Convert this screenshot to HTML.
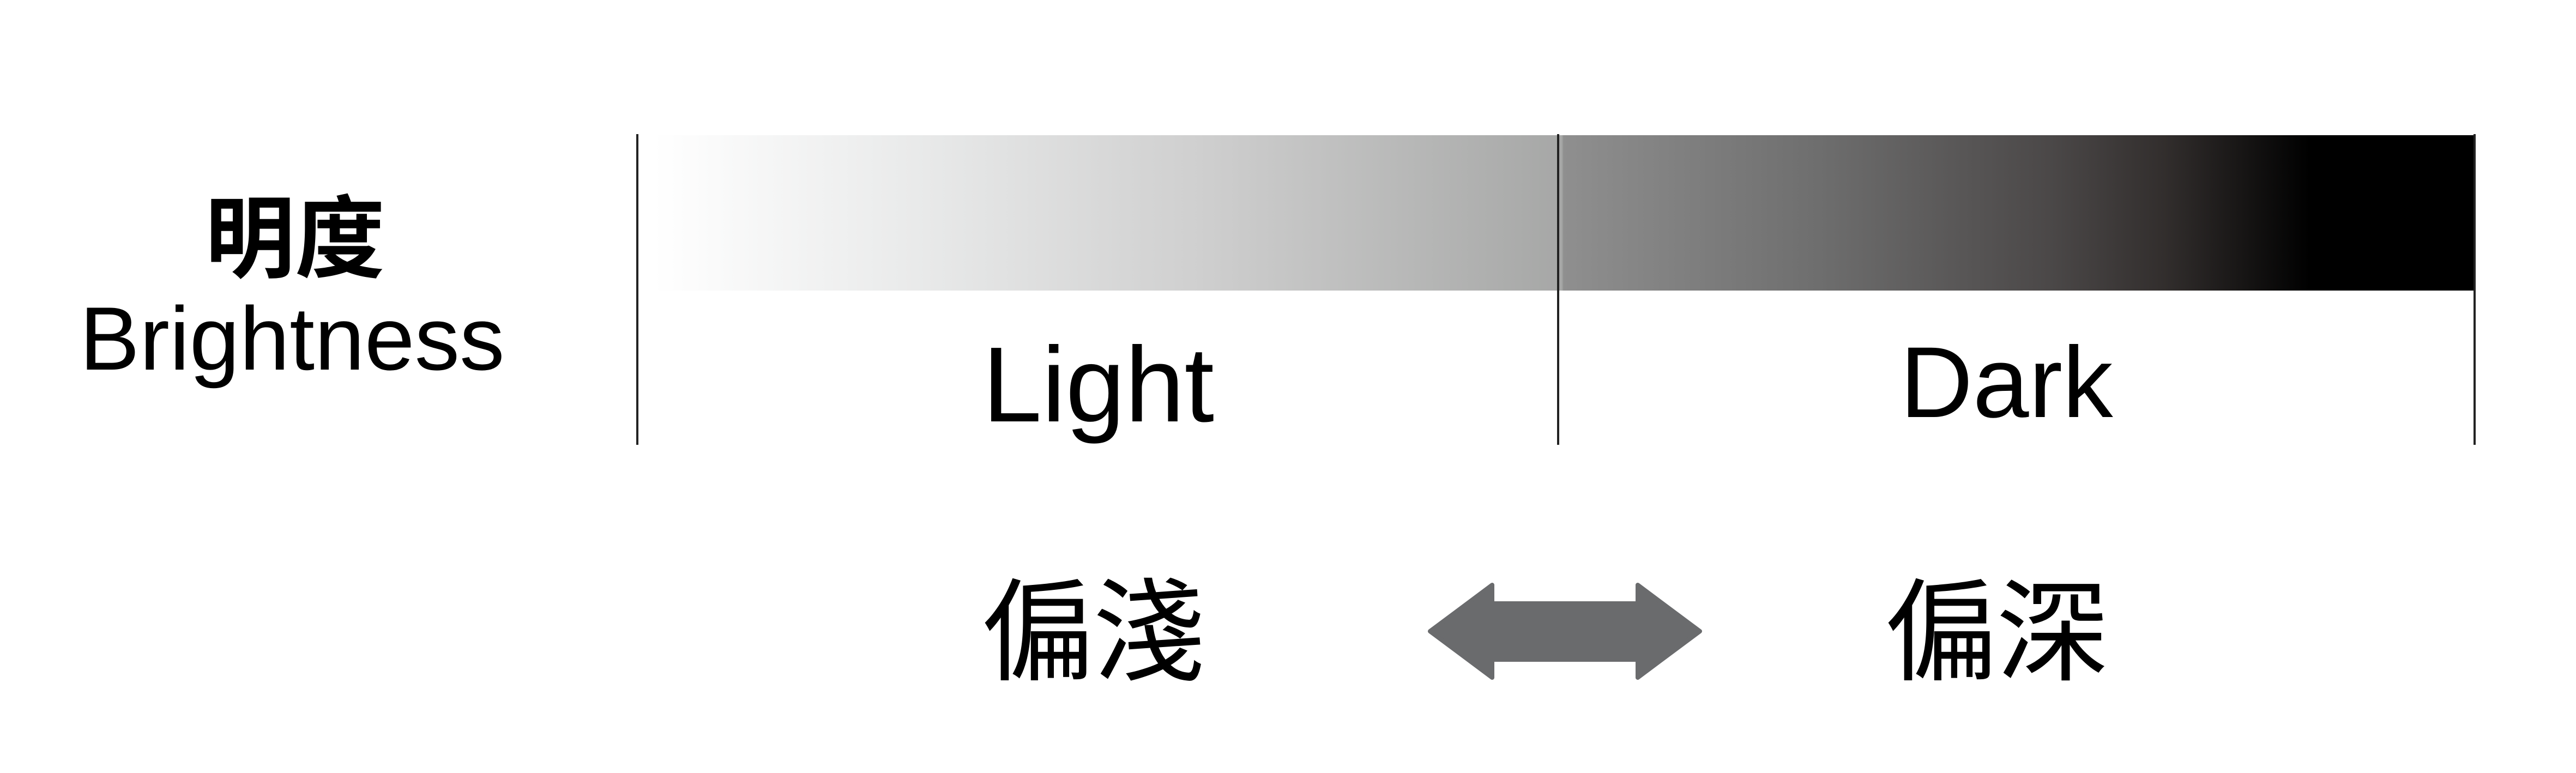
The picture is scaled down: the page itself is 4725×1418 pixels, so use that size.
<!DOCTYPE html>
<html><head><meta charset="utf-8"><style>
body{margin:0;width:4725px;height:1418px;background:#fff;position:relative;overflow:hidden;font-family:"Liberation Sans","Noto Sans CJK TC",sans-serif;}
.t{position:absolute;white-space:nowrap;color:#000;line-height:1;}
.v{position:absolute;width:4px;background:#222;}
</style></head><body>
<div style="position:absolute;left:1199px;top:248px;width:3338px;height:285px;background:linear-gradient(to right,#fff 0%,#e8e9e9 15%,#cfcfcf 30%,#a6a7a6 49.9%,#8f8f8f 50%,#6e6e6e 64%,#4a4747 77%,#322e2d 83%,#000 91%,#000 100%);"></div>
<div class="v" style="left:1167px;top:246px;height:570px;"></div>
<div class="v" style="left:2856px;top:246px;height:570px;"></div>
<div class="v" style="left:4537px;top:246px;height:570px;"></div>
<div class="t" style="left:376px;top:342px;font-size:165px;font-weight:bold;font-family:'Noto Sans CJK TC',sans-serif;">明度</div>
<div class="t" style="left:146px;top:539px;font-size:165px;">Brightness</div>
<div class="t" style="left:1802px;top:608px;font-size:196px;">Light</div>
<div class="t" style="left:3485px;top:610px;font-size:185px;">Dark</div>
<div class="t" style="left:1800px;top:1041px;font-size:205px;font-family:'Noto Sans CJK TC',sans-serif;">偏淺</div>
<div class="t" style="left:3457px;top:1041px;font-size:205px;font-family:'Noto Sans CJK TC',sans-serif;">偏深</div>
<svg style="position:absolute;left:0;top:0" width="4725" height="1418">
<polygon points="2623,1158 2737,1073 2737,1107 3004,1107 3004,1073 3118,1158 3004,1243 3004,1210 2737,1210 2737,1243" fill="#6a6b6d" stroke="#6a6b6d" stroke-width="8" stroke-linejoin="round"/>
</svg>
</body></html>
